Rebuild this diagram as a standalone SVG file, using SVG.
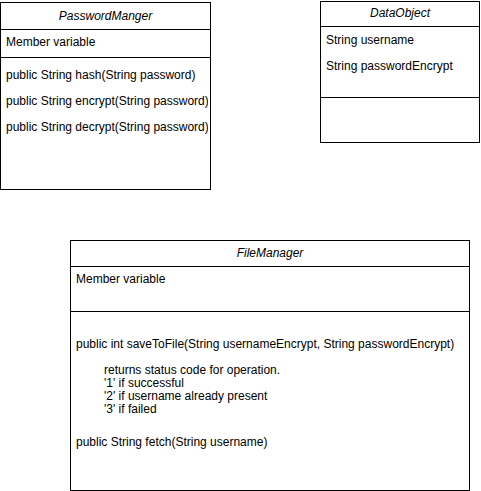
<svg xmlns="http://www.w3.org/2000/svg" width="481" height="491" viewBox="0 0 481 491">
<style>
.box{fill:#fff;stroke:#000;stroke-width:1}
.ln{stroke:#000;stroke-width:1;fill:none}
text{font-family:"Liberation Sans",Arial,Helvetica,sans-serif;font-size:12px;fill:#000}
.t{font-style:italic;text-anchor:middle}
</style>
<defs>
<clipPath id="pmclip"><rect x="0" y="60" width="208" height="80"/></clipPath>
</defs>
<rect width="481" height="491" fill="#fff"/>
<g id="PasswordManger">
<rect class="box" x="0.5" y="2.5" width="210" height="187"/>
<line class="ln" x1="0.5" y1="29.5" x2="210.5" y2="29.5"/>
<line class="ln" x1="0.5" y1="57.5" x2="210.5" y2="57.5"/>
<text class="t" x="105.5" y="20">PasswordManger</text>
<text x="6" y="46">Member variable</text>
<g clip-path="url(#pmclip)">
<text x="6" y="79">public String hash(String password)</text>
<text x="6" y="105">public String encrypt(String password)</text>
<text x="6" y="131">public String decrypt(String password)</text>
</g>
</g>
<g id="DataObject">
<rect class="box" x="320.5" y="1.5" width="159" height="141"/>
<line class="ln" x1="320.5" y1="26.5" x2="479.5" y2="26.5"/>
<line class="ln" x1="320.5" y1="97.5" x2="479.5" y2="97.5"/>
<text class="t" x="400" y="17">DataObject</text>
<text x="326" y="44">String username</text>
<text x="326" y="70">String passwordEncrypt</text>
</g>
<g id="FileManager">
<rect class="box" x="70.5" y="240.5" width="399" height="250"/>
<line class="ln" x1="70.5" y1="266.5" x2="469.5" y2="266.5"/>
<line class="ln" x1="70.5" y1="311.5" x2="469.5" y2="311.5"/>
<text class="t" x="270" y="257">FileManager</text>
<text x="76" y="283">Member variable</text>
<text x="76" y="348">public int saveToFile(String usernameEncrypt, String passwordEncrypt)</text>
<text x="104" y="374">returns status code for operation.</text>
<text x="104" y="387">'1' if successful</text>
<text x="104" y="400">'2' if username already present</text>
<text x="104" y="413">'3' if failed</text>
<text x="76" y="446">public String fetch(String username)</text>
</g>
<g id="connectors"/>
</svg>
